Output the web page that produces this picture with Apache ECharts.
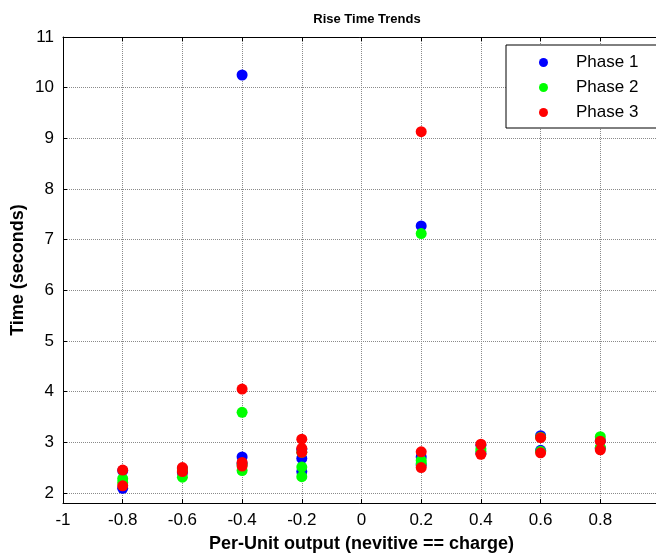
<!DOCTYPE html>
<html>
<head>
<meta charset="utf-8">
<script src="https://cdn.jsdelivr.net/npm/echarts@6/dist/echarts.min.js"></script>
<style>
  html, body { margin: 0; padding: 0; background: #fff; }
  #chart { width: 656px; height: 554px; }
</style>
</head>
<body>
<div id="chart"></div>
<script>
// Rise time per output level, [per-unit output, time in seconds]
const phase1 = [
  [-0.8, 2.09], [-0.8, 2.44],
  [-0.6, 2.48], [-0.6, 2.40],
  [-0.4, 10.25], [-0.4, 2.71], [-0.4, 2.58],
  [-0.2, 2.68], [-0.2, 2.42], [-0.2, 2.86],
  [0.2, 7.27], [0.2, 2.71], [0.2, 2.55],
  [0.4, 2.94], [0.4, 2.78],
  [0.6, 3.13], [0.6, 2.84],
  [0.8, 3.03], [0.8, 2.88]
];
const phase2 = [
  [-0.8, 2.28], [-0.8, 2.20],
  [-0.6, 2.31], [-0.6, 2.45],
  [-0.4, 3.59], [-0.4, 2.44], [-0.4, 2.55],
  [-0.2, 2.51], [-0.2, 2.32], [-0.2, 2.80],
  [0.2, 7.12], [0.2, 2.64], [0.2, 2.58],
  [0.4, 2.87], [0.4, 2.82],
  [0.6, 3.10], [0.6, 2.82],
  [0.8, 3.11], [0.8, 2.90]
];
const phase3 = [
  [-0.8, 2.45], [-0.8, 2.14],
  [-0.6, 2.50], [-0.6, 2.42],
  [-0.4, 4.05], [-0.4, 2.60], [-0.4, 2.53],
  [-0.2, 3.06], [-0.2, 2.88], [-0.2, 2.80],
  [0.2, 9.13], [0.2, 2.81], [0.2, 2.50],
  [0.4, 2.96], [0.4, 2.76],
  [0.6, 3.09], [0.6, 2.79],
  [0.8, 3.02], [0.8, 2.85]
];
const seriesNames = ['Phase 1', 'Phase 2', 'Phase 3'];
const seriesColors = ['#0000ff', '#00ff00', '#ff0000'];

const xRange = [-1, 1];
const yRange = [1.8, 11];

const FONT = '"Liberation Sans", Arial, Helvetica, sans-serif';

const chart = echarts.init(document.getElementById('chart'), null, { renderer: 'canvas' });

const gridLine = { show: true, lineStyle: { color: '#8a8a8a', type: 'dotted', width: 1 } };
const blackLine = { show: true, onZero: false, lineStyle: { color: '#000', width: 1 } };
const innerTick = { show: true, inside: true, length: 4, lineStyle: { color: '#000' } };

const option = {
  animation: false,
  backgroundColor: '#fff',
  title: {
    text: 'Rise Time Trends',
    left: 362,
    textAlign: 'center',
    top: 8,
    textStyle: { fontFamily: FONT, fontSize: 13, fontWeight: 'bold', color: '#000' }
  },
  // plot box runs slightly past the right edge of the canvas
  grid: { left: 63, top: 37, width: 597, height: 466, containLabel: false, outerBoundsMode: 'none' },
  legend: {
    data: seriesNames,
    orient: 'vertical',
    left: 506,
    top: 45,
    padding: [9, 28, 7, 33],
    itemWidth: 9,
    itemHeight: 9,
    itemGap: 8,
    icon: 'circle',
    backgroundColor: '#fff',
    borderColor: '#000',
    borderWidth: 1,
    borderRadius: 0,
    textStyle: { fontFamily: FONT, fontSize: 17, color: '#000', padding: [0, 0, 0, 23] }
  },
  xAxis: [
    {
      type: 'value',
      min: xRange[0],
      max: xRange[1],
      interval: 0.2,
      position: 'bottom',
      name: 'Per-Unit output (nevitive == charge)',
      nameLocation: 'middle',
      nameGap: 32,
      nameTextStyle: { fontFamily: FONT, fontSize: 18, fontWeight: 'bold', color: '#000' },
      axisLine: blackLine,
      axisTick: innerTick,
      splitLine: gridLine,
      axisLabel: {
        fontFamily: FONT, fontSize: 17, color: '#000', margin: 9,
        showMinLabel: true, showMaxLabel: true, hideOverlap: false,
        formatter: v => String(Math.round(v * 10) / 10)
      }
    },
    {
      type: 'value',
      min: xRange[0],
      max: xRange[1],
      interval: 0.2,
      position: 'top',
      axisLine: blackLine,
      axisTick: innerTick,
      splitLine: { show: false },
      axisLabel: { show: false }
    }
  ],
  yAxis: {
    type: 'value',
    min: yRange[0],
    max: yRange[1],
    splitNumber: 9,
    name: 'Time (seconds)',
    nameLocation: 'middle',
    nameGap: 36,
    nameMoveOverlap: false,
    nameTextStyle: { fontFamily: FONT, fontSize: 18, fontWeight: 'bold', color: '#000' },
    axisLine: blackLine,
    axisTick: innerTick,
    splitLine: gridLine,
    axisLabel: {
      fontFamily: FONT, fontSize: 17, color: '#000', margin: 9,
      showMinLabel: false,
      formatter: v => (Number.isInteger(v) ? String(v) : '')
    }
  },
  series: [phase1, phase2, phase3].map((d, i) => ({
    name: seriesNames[i],
    type: 'scatter',
    xAxisIndex: 0,
    data: d,
    symbol: 'circle',
    symbolSize: 11,
    itemStyle: { color: seriesColors[i], opacity: 1 },
    emphasis: { disabled: true }
  }))
};

chart.setOption(option);
</script>
</body>
</html>
